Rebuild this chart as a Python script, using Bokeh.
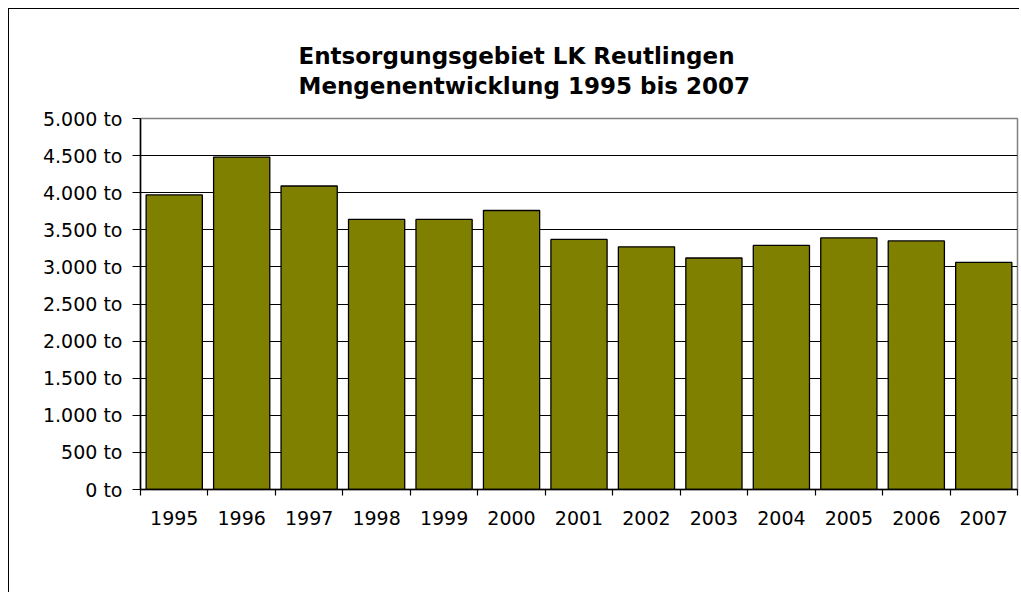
import numpy as np
from bokeh.plotting import figure
from bokeh.models import FixedTicker, Range1d, ColumnDataSource
from bokeh.embed import file_html
from bokeh.resources import INLINE

# ---- data ----
years = ["1995", "1996", "1997", "1998", "1999", "2000", "2001",
         "2002", "2003", "2004", "2005", "2006", "2007"]
mengen = [3970, 4480, 4090, 3640, 3640, 3760, 3370,
          3270, 3120, 3290, 3390, 3350, 3060]
y_ticks = [0, 500, 1000, 1500, 2000, 2500, 3000, 3500, 4000, 4500, 5000]
y_tick_labels = ["0 to", "500 to", "1.000 to", "1.500 to", "2.000 to", "2.500 to",
                 "3.000 to", "3.500 to", "4.000 to", "4.500 to", "5.000 to"]
title_text = "Entsorgungsgebiet LK Reutlingen\nMengenentwicklung 1995 bis 2007"

FONT = "DejaVu Sans"

x_pos = np.arange(len(years)) + 0.5
source = ColumnDataSource(dict(x=x_pos, top=mengen, year=years))

p = figure(width=1011, height=584, output_backend="svg", toolbar_location=None,
           x_range=Range1d(0, len(years)), y_range=Range1d(0, 5000),
           title=title_text, min_border_left=131, min_border_top=109,
           min_border_bottom=104, min_border_right=3)
p.styles = {"margin-left": "8px", "margin-top": "8px",
            "border-left": "1px solid #000000", "border-top": "1px solid #000000"}

p.vbar(x="x", top="top", width=0.833, bottom=0, source=source,
       fill_color="#808000", line_color="#000000", line_width=1.3)

# title
p.title.text_font = FONT
p.title.text_font_style = "bold"
p.title.text_font_size = "23px"
p.title.text_color = "#000000"
p.title.align = "left"
p.title.offset = 158
p.title.standoff = 39
p.title.text_line_height = 1.15

# frame
p.outline_line_color = "#808080"
p.outline_line_width = 1.5
p.background_fill_color = "#ffffff"
p.border_fill_color = "#ffffff"

# grids
p.xgrid.visible = False
p.ygrid.ticker = FixedTicker(ticks=y_ticks)
p.ygrid.grid_line_color = "#000000"
p.ygrid.grid_line_width = 1.2

# y axis
p.yaxis.ticker = FixedTicker(ticks=y_ticks)
p.yaxis.major_label_overrides = {t: l for t, l in zip(y_ticks, y_tick_labels)}
p.yaxis.axis_line_color = "#000000"
p.yaxis.axis_line_width = 1.5
p.yaxis.major_tick_line_color = "#000000"
p.yaxis.major_tick_line_width = 1.2
p.yaxis.major_tick_in = 0
p.yaxis.major_tick_out = 8
p.yaxis.minor_tick_line_color = None
p.yaxis.major_label_text_font = FONT
p.yaxis.major_label_text_font_size = "19px"
p.yaxis.major_label_text_color = "#000000"
p.yaxis.major_label_standoff = 10

# x axis: labels at bar centres, ticks between categories
boundaries = list(range(len(years) + 1))
p.xaxis.ticker = FixedTicker(ticks=list(x_pos), minor_ticks=boundaries)
p.xaxis.major_label_overrides = {float(x): y for x, y in zip(x_pos, years)}
p.xaxis.axis_line_color = "#000000"
p.xaxis.axis_line_width = 1.5
p.xaxis.major_tick_line_color = None
p.xaxis.major_tick_in = 0
p.xaxis.major_tick_out = 0
p.xaxis.minor_tick_line_color = "#000000"
p.xaxis.minor_tick_line_width = 1.2
p.xaxis.minor_tick_in = 0
p.xaxis.minor_tick_out = 6
p.xaxis.major_label_text_font = FONT
p.xaxis.major_label_text_font_size = "19px"
p.xaxis.major_label_text_color = "#000000"
p.xaxis.major_label_standoff = 15

open("out.html", "w").write(file_html(p, INLINE))
